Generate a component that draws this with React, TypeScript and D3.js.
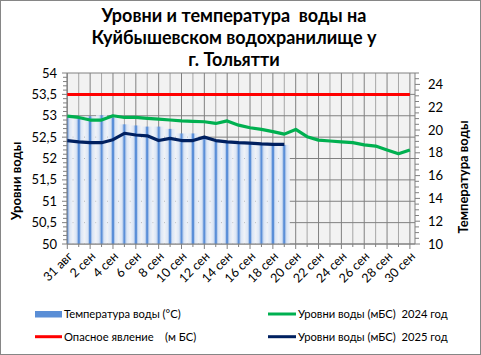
import React from "react";
import * as d3 from "d3";

const categories = ["31 авг","1 сен","2 сен","3 сен","4 сен","5 сен","6 сен","7 сен","8 сен","9 сен","10 сен","11 сен","12 сен","13 сен","14 сен","15 сен","16 сен","17 сен","18 сен","19 сен","20 сен","21 сен","22 сен","23 сен","24 сен","25 сен","26 сен","27 сен","28 сен","29 сен","30 сен"];
const temperature = [21.1, 21.0, 21.2, 21.3, 21.1, 20.5, 20.4, 20.3, 20.3, 20.1, 19.7, 19.7, 19.4, 19.0, 19.0, 18.8, 18.8, 18.7, 18.7, 18.7];
const level2024 = [52.99, 52.96, 52.90, 52.90, 53.00, 52.96, 52.96, 52.94, 52.92, 52.90, 52.88, 52.87, 52.86, 52.82, 52.88, 52.78, 52.72, 52.68, 52.63, 52.57, 52.68, 52.51, 52.43, 52.41, 52.39, 52.37, 52.32, 52.29, 52.20, 52.11, 52.20];
const level2025 = [52.42, 52.39, 52.37, 52.37, 52.44, 52.59, 52.55, 52.53, 52.42, 52.47, 52.42, 52.42, 52.50, 52.42, 52.39, 52.37, 52.36, 52.34, 52.33, 52.33];
const dangerLevel = categories.map(() => 53.5);
const leftTicks = [50, 50.5, 51, 51.5, 52, 52.5, 53, 53.5, 54];
const rightTicks = [10, 12, 14, 16, 18, 20, 22, 24];
const titleLines = ["Уровни и температура  воды на", "Куйбышевском водохранилище у", "г. Тольятти"];
const legendLabels = ["Температура воды (°C)", "Опасное явление    (м БС)", "Уровни воды (мБС)  2024 год", "Уровни воды (мБС)  2025 год"];

const FONT = "Lato, 'Liberation Sans', sans-serif";
const L = 67, R = 415, T = 73, B = 244;

export default function App() {
  const x = d3.scalePoint<string>().domain(categories).range([67.3, 409.9]);
  const step = x.step();
  const yL = d3.scaleLinear().domain([50, 54]).range([B, T]);
  const yR = d3.scaleLinear().domain([10, 25]).range([B, T]);
  const lineL = d3.line<number>().x((_, i) => x(categories[i])!).y((d) => yL(d));
  const leftMinor = d3.range(50, 54.0001, 0.1);
  const rightMinor = d3.range(10, 25.0001, 0.5);
  const barW = step * 0.96;

  return (
    <svg width={481} height={355} style={{ position: "absolute", left: 0, top: 0 }} fontFamily={FONT}>
      <defs>
        <linearGradient id="barGrad" x1="0" x2="1" y1="0" y2="0">
          <stop offset="0" stopColor="#eef2f9" />
          <stop offset="0.28" stopColor="#dbe5f4" />
          <stop offset="0.4" stopColor="#9dbbe6" />
          <stop offset="0.44" stopColor="#5b8fd8" />
          <stop offset="0.56" stopColor="#5b8fd8" />
          <stop offset="0.6" stopColor="#9dbbe6" />
          <stop offset="0.72" stopColor="#dbe5f4" />
          <stop offset="1" stopColor="#eef2f9" />
        </linearGradient>
        <clipPath id="plotClip">
          <rect x={L} y={T} width={R - L} height={B - T} />
        </clipPath>
      </defs>
      <rect x={0.5} y={0.5} width={480} height={354} fill="#fff" stroke="#868686" />
      {titleLines.map((t, i) => (
        <text key={i} x={234} y={21.5 + i * 22.3} textAnchor="middle" fontSize={18} fontWeight="bold" xmlSpace="preserve" style={{ whiteSpace: "pre" }}>{t}</text>
      ))}
      <rect x={L} y={T} width={R - L} height={B - T} fill="#f2f2f2" />
      {categories.map((c, i) => (
        <line key={c} x1={x(c)} x2={x(c)} y1={T} y2={B} stroke={i % 2 === 0 ? "#808080" : "#a6a6a6"} strokeWidth={1} />
      ))}
      {leftTicks.map((v) => (
        <line key={v} x1={L} x2={R} y1={yL(v)} y2={yL(v)} stroke="#808080" strokeWidth={1} />
      ))}
      <g clipPath="url(#plotClip)">
        {temperature.map((t, i) => (
          <rect key={i} x={x(categories[i])! - barW / 2} y={yR(t)} width={barW} height={B - yR(t)} fill="url(#barGrad)" />
        ))}
      </g>
      <line x1={L} x2={L} y1={T} y2={B} stroke="#808080" />
      <line x1={R} x2={R} y1={T} y2={B} stroke="#808080" />
      <line x1={L} x2={R} y1={B} y2={B} stroke="#808080" />
      {leftMinor.map((v, i) => (
        <line key={"lm" + i} x1={L - (i % 5 === 0 ? 5 : 4)} x2={L} y1={yL(v)} y2={yL(v)} stroke="#808080" />
      ))}
      {rightMinor.map((v, i) => (
        <line key={"rm" + i} x1={R} x2={R + (i % 4 === 0 ? 5 : 4)} y1={yR(v)} y2={yR(v)} stroke="#808080" />
      ))}
      {categories.map((c, i) => (
        <line key={"xt" + c} x1={x(c)} x2={x(c)} y1={B} y2={B + (i % 2 === 0 ? 5 : 3)} stroke="#808080" />
      ))}
      <path d={lineL(dangerLevel)!} fill="none" stroke="#ff0000" strokeWidth={3} />
      <path d={lineL(level2024)!} fill="none" stroke="#00b050" strokeWidth={3.2} strokeLinejoin="round" />
      <path d={lineL(level2025)!} fill="none" stroke="#002060" strokeWidth={3.2} strokeLinejoin="round" />
      {leftTicks.map((v) => (
        <text key={"ll" + v} x={57} y={yL(v)} dy="0.35em" textAnchor="end" fontSize={13}>{String(v).replace(".", ",")}</text>
      ))}
      {rightTicks.map((v) => (
        <text key={"rl" + v} x={428} y={yR(v)} dy="0.35em" textAnchor="start" fontSize={13}>{v}</text>
      ))}
      {categories.map((c, i) => i % 2 === 0 ? (
        <text key={"xl" + c} transform={`translate(${x(c)! + 3},${B + 10}) rotate(-45)`} dy="0.35em" textAnchor="end" fontSize={12.5}>{c}</text>
      ) : null)}
      <text transform="translate(21,181) rotate(-90)" textAnchor="middle" fontSize={13} fontWeight="bold">Уровни воды</text>
      <text transform="translate(468,177) rotate(-90)" textAnchor="middle" fontSize={13} fontWeight="bold">Температура воды</text>
      <rect x={35} y={311} width={27} height={6.5} fill="#5a8ed6" />
      <line x1={35} x2={62} y1={336.7} y2={336.7} stroke="#ff0000" strokeWidth={3} />
      <line x1={268} x2={296} y1={314} y2={314} stroke="#00b050" strokeWidth={3} />
      <line x1={268} x2={296} y1={336.7} y2={336.7} stroke="#002060" strokeWidth={3} />
      <text x={64} y={314} dy="0.35em" fontSize={11.2} xmlSpace="preserve" style={{ whiteSpace: "pre" }}>{legendLabels[0]}</text>
      <text x={64} y={336.7} dy="0.35em" fontSize={11.2} xmlSpace="preserve" style={{ whiteSpace: "pre" }}>{legendLabels[1]}</text>
      <text x={298} y={314} dy="0.35em" fontSize={11.2} xmlSpace="preserve" style={{ whiteSpace: "pre" }}>{legendLabels[2]}</text>
      <text x={298} y={336.7} dy="0.35em" fontSize={11.2} xmlSpace="preserve" style={{ whiteSpace: "pre" }}>{legendLabels[3]}</text>
    </svg>
  );
}
